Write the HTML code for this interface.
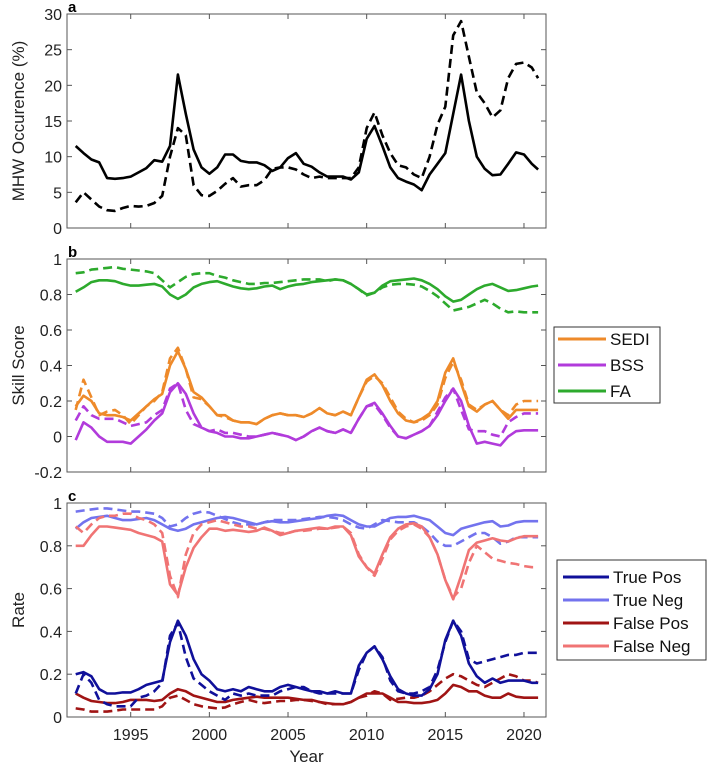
<!DOCTYPE html>
<html><head><meta charset="utf-8">
<style>
html,body{margin:0;padding:0;background:#fff;}
svg{display:block;font-family:"Liberation Sans",Arial,sans-serif;}
</style></head>
<body>
<svg id="fig" width="707" height="769" viewBox="0 0 707 769"></svg>
<script>
const years=[1991.5,1992,1992.5,1993,1993.5,1994,1994.5,1995,1995.5,1996,
1996.5,1997,1997.5,1998,1998.5,1999,1999.5,2000,2000.5,2001,
2001.5,2002,2002.5,2003,2003.5,2004,2004.5,2005,2005.5,2006,
2006.5,2007,2007.5,2008,2008.5,2009,2009.5,2010,2010.5,2011,
2011.5,2012,2012.5,2013,2013.5,2014,2014.5,2015,2015.5,2016,
2016.5,2017,2017.5,2018,2018.5,2019,2019.5,2020,2020.5,2020.9];
const xTicks=[1995,2000,2005,2010,2015,2020];
const mhwObs=[11.5,10.5,9.6,9.2,7.0,6.9,7.0,7.2,7.8,8.4,
9.5,9.3,11.5,21.5,16,11,8.5,7.6,8.5,10.3,
10.3,9.4,9.2,9.2,8.8,8.0,8.5,9.8,10.5,9.0,
8.6,7.8,7.2,7.2,7.2,6.8,7.8,12.5,14.3,11.5,
8.5,7.0,6.5,6.1,5.3,7.5,9.0,10.5,16,21.5,
15,10,8.3,7.4,7.5,9.0,10.6,10.3,9.0,8.2];
const mhwMod=[3.6,5.0,4.0,3.0,2.5,2.4,2.8,3.1,3.0,3.1,
3.5,4.5,10,14,13,6,4.6,4.5,5.2,6.2,
7.0,5.8,6.0,6.0,6.7,8.3,8.5,8.5,8.2,7.5,
7.0,7.2,7.0,7.0,7.0,7.0,8.5,14,16.2,13,
10.5,8.8,8.5,7.5,7.0,10,14.5,17,27,29,
24,19,17.5,15.5,16.5,21,23,23.2,22.5,21];
const faObs=[0.815,0.84,0.87,0.88,0.88,0.875,0.86,0.85,0.85,0.855,
0.86,0.845,0.80,0.775,0.80,0.84,0.86,0.87,0.875,0.86,
0.845,0.835,0.83,0.835,0.845,0.85,0.83,0.845,0.855,0.86,
0.87,0.875,0.88,0.885,0.88,0.86,0.83,0.80,0.81,0.85,
0.875,0.88,0.885,0.89,0.88,0.86,0.83,0.79,0.76,0.77,
0.80,0.83,0.85,0.86,0.84,0.82,0.825,0.835,0.845,0.85];
const faMod=[0.92,0.925,0.94,0.945,0.95,0.955,0.945,0.94,0.935,0.93,
0.92,0.88,0.84,0.87,0.90,0.915,0.92,0.92,0.905,0.895,
0.88,0.87,0.86,0.86,0.865,0.865,0.87,0.875,0.88,0.885,
0.885,0.885,0.875,0.885,0.88,0.86,0.83,0.795,0.81,0.84,
0.855,0.86,0.86,0.855,0.845,0.82,0.79,0.75,0.71,0.72,
0.73,0.75,0.77,0.75,0.72,0.70,0.705,0.70,0.70,0.70];
const sediObs=[0.17,0.23,0.20,0.13,0.12,0.12,0.11,0.09,0.13,0.17,
0.21,0.24,0.40,0.48,0.38,0.25,0.22,0.17,0.12,0.12,
0.09,0.08,0.08,0.07,0.10,0.12,0.13,0.12,0.12,0.11,
0.13,0.16,0.13,0.12,0.14,0.12,0.22,0.32,0.35,0.29,
0.20,0.13,0.09,0.08,0.10,0.13,0.20,0.36,0.44,0.30,
0.17,0.14,0.18,0.20,0.15,0.10,0.15,0.15,0.15,0.15];
const sediMod=[0.15,0.32,0.22,0.12,0.14,0.15,0.12,0.07,0.12,0.17,
0.20,0.25,0.44,0.50,0.38,0.22,0.21,0.17,0.12,0.11,
0.09,0.08,0.08,0.07,0.10,0.12,0.13,0.12,0.12,0.11,
0.13,0.16,0.13,0.12,0.14,0.12,0.22,0.31,0.34,0.30,
0.22,0.14,0.10,0.08,0.09,0.12,0.18,0.33,0.42,0.32,
0.18,0.15,0.18,0.20,0.15,0.12,0.18,0.20,0.20,0.20];
const bssObs=[-0.02,0.08,0.05,0.0,-0.03,-0.03,-0.03,-0.04,0.0,0.04,
0.09,0.13,0.25,0.30,0.24,0.13,0.05,0.03,0.02,0.0,
0.0,-0.01,-0.01,0.0,0.01,0.02,0.01,0.0,-0.02,0.0,
0.03,0.05,0.03,0.02,0.04,0.02,0.10,0.17,0.19,0.13,
0.06,0.0,-0.01,0.01,0.03,0.06,0.12,0.20,0.27,0.20,
0.06,-0.04,-0.03,-0.04,-0.05,0.0,0.03,0.035,0.035,0.035];
const bssMod=[0.09,0.17,0.12,0.10,0.10,0.10,0.08,0.06,0.07,0.08,
0.12,0.15,0.27,0.30,0.15,0.07,0.05,0.03,0.04,0.02,
0.02,0.01,0.0,0.0,0.01,0.02,0.01,0.0,-0.02,0.0,
0.03,0.05,0.03,0.02,0.04,0.02,0.10,0.17,0.18,0.12,
0.05,0.0,-0.01,0.01,0.03,0.06,0.14,0.22,0.27,0.15,
0.04,0.03,0.03,0.01,0.0,0.08,0.11,0.13,0.13,0.13];
const tnObs=[0.88,0.91,0.93,0.935,0.94,0.93,0.92,0.92,0.925,0.93,
0.92,0.90,0.88,0.87,0.88,0.90,0.91,0.92,0.93,0.935,
0.93,0.92,0.91,0.90,0.91,0.915,0.91,0.91,0.915,0.92,
0.925,0.93,0.94,0.945,0.94,0.92,0.90,0.89,0.89,0.91,
0.93,0.935,0.935,0.94,0.93,0.92,0.89,0.86,0.85,0.88,
0.89,0.90,0.91,0.915,0.89,0.895,0.91,0.915,0.915,0.915];
const tnMod=[0.96,0.965,0.97,0.975,0.975,0.97,0.965,0.96,0.96,0.955,
0.95,0.93,0.89,0.90,0.93,0.95,0.96,0.955,0.94,0.925,
0.91,0.90,0.90,0.90,0.91,0.92,0.92,0.92,0.92,0.925,
0.93,0.935,0.935,0.93,0.92,0.90,0.885,0.88,0.90,0.92,
0.915,0.91,0.91,0.91,0.89,0.86,0.82,0.80,0.80,0.82,
0.84,0.86,0.86,0.84,0.81,0.82,0.84,0.84,0.84,0.84];
const fnObs=[0.80,0.80,0.85,0.89,0.89,0.885,0.88,0.875,0.86,0.85,
0.84,0.82,0.62,0.57,0.70,0.79,0.84,0.88,0.88,0.87,
0.875,0.87,0.865,0.87,0.885,0.87,0.85,0.86,0.87,0.875,
0.88,0.885,0.88,0.89,0.89,0.85,0.75,0.70,0.67,0.76,
0.84,0.88,0.90,0.905,0.89,0.84,0.76,0.64,0.55,0.66,
0.78,0.815,0.825,0.835,0.825,0.82,0.835,0.845,0.845,0.845];
const fnMod=[0.89,0.86,0.90,0.93,0.94,0.94,0.95,0.95,0.93,0.92,
0.90,0.86,0.66,0.56,0.76,0.86,0.90,0.91,0.92,0.91,
0.90,0.89,0.89,0.88,0.88,0.87,0.86,0.86,0.87,0.87,
0.875,0.88,0.88,0.885,0.89,0.86,0.76,0.70,0.66,0.74,
0.83,0.87,0.89,0.90,0.88,0.84,0.76,0.64,0.56,0.60,
0.72,0.80,0.77,0.74,0.73,0.72,0.715,0.705,0.70,0.70];
const tpObs=[0.20,0.21,0.19,0.13,0.11,0.11,0.115,0.115,0.13,0.15,
0.16,0.17,0.35,0.45,0.38,0.27,0.20,0.17,0.13,0.12,
0.13,0.12,0.14,0.13,0.12,0.12,0.14,0.15,0.14,0.13,
0.12,0.12,0.11,0.12,0.11,0.11,0.24,0.30,0.33,0.27,
0.19,0.13,0.11,0.10,0.10,0.13,0.20,0.36,0.45,0.38,
0.25,0.19,0.16,0.18,0.16,0.17,0.17,0.17,0.16,0.16];
const tpMod=[0.11,0.20,0.16,0.08,0.06,0.05,0.05,0.05,0.09,0.10,
0.12,0.16,0.38,0.44,0.28,0.18,0.15,0.12,0.10,0.08,
0.11,0.10,0.11,0.10,0.10,0.10,0.12,0.13,0.14,0.14,
0.12,0.11,0.11,0.11,0.11,0.11,0.22,0.30,0.33,0.28,
0.17,0.12,0.11,0.11,0.12,0.14,0.22,0.35,0.45,0.40,
0.27,0.25,0.26,0.27,0.28,0.29,0.29,0.30,0.30,0.30];
const fpObs=[0.11,0.09,0.075,0.07,0.065,0.065,0.07,0.08,0.08,0.08,
0.075,0.08,0.11,0.13,0.12,0.10,0.09,0.08,0.07,0.07,
0.08,0.085,0.09,0.095,0.09,0.09,0.09,0.09,0.085,0.08,
0.08,0.07,0.065,0.06,0.06,0.07,0.09,0.11,0.11,0.11,
0.09,0.07,0.07,0.065,0.065,0.07,0.08,0.11,0.15,0.14,
0.12,0.12,0.10,0.09,0.09,0.11,0.095,0.09,0.09,0.09];
const fpMod=[0.04,0.035,0.025,0.025,0.025,0.03,0.035,0.035,0.035,0.035,
0.035,0.05,0.09,0.10,0.08,0.06,0.05,0.045,0.04,0.045,
0.06,0.07,0.08,0.07,0.065,0.07,0.075,0.075,0.08,0.08,
0.075,0.07,0.06,0.06,0.06,0.07,0.09,0.10,0.12,0.11,
0.08,0.085,0.09,0.09,0.10,0.12,0.15,0.18,0.20,0.19,
0.17,0.15,0.14,0.16,0.18,0.20,0.19,0.17,0.17,0.16];
const yTicksA=[0,5,10,15,20,25,30];
const yTicksB=[-0.2,0,0.2,0.4,0.6,0.8,1];
const yTicksC=[0,0.2,0.4,0.6,0.8,1];
const legendB=["SEDI","BSS","FA"];
const legendC=["True Pos","True Neg","False Pos","False Neg"];

const NS="http://www.w3.org/2000/svg";
const svg=document.getElementById('fig');
const X0=67,X1=546,XMIN=1990.95,XMAX=2021.4;
function xs(v){return X0+(v-XMIN)/(XMAX-XMIN)*(X1-X0);}
function mk(tag,attrs,parent){const e=document.createElementNS(NS,tag);for(const k in attrs)e.setAttribute(k,attrs[k]);(parent||svg).appendChild(e);return e;}
function txt(s,attrs,parent){const e=mk('text',attrs,parent);e.textContent=s;return e;}

function panel(name,top,bot,ymin,ymax,ticks,ylabel,letter,showX){
  const g=mk('g',{});
  
  
  const ys=v=>bot-(v-ymin)/(ymax-ymin)*(bot-top);
  const box=mk('rect',{x:X0,y:top,width:X1-X0,height:bot-top,fill:'none',stroke:'#555','stroke-width':1},g);
  
  
  xTicks.forEach(t=>{
    const x=xs(t);
    mk('line',{x1:x,x2:x,y1:bot,y2:bot-5,stroke:'#555'},g);
    mk('line',{x1:x,x2:x,y1:top,y2:top+5,stroke:'#555'},g);
    if(showX){const l=txt(String(t),{x:x,y:bot+23,'text-anchor':'middle','font-size':16,fill:'#222'},g);
      
      }
  });
  ticks.forEach(t=>{
    const y=ys(t);
    mk('line',{x1:X0,x2:X0+5,y1:y,y2:y,stroke:'#555'},g);
    mk('line',{x1:X1,x2:X1-5,y1:y,y2:y,stroke:'#555'},g);
    const l=txt(String(t),{x:X0-5,y:y+6,'text-anchor':'end','font-size':16,fill:'#222'},g);
    
    
  });
  const yl=txt(ylabel,{x:0,y:0,'text-anchor':'middle','font-size':17,fill:'#222',transform:`translate(24,${(top+bot)/2}) rotate(-90)`},g);
  
  
  const pl=txt(letter,{x:X0+1,y:top-2,'font-size':15,'font-weight':'bold',fill:'#000'},g);
  
  
  return {g,ys};
}
function series(p,vals,color,dashed,name){
  const d=vals.map((v,i)=>(i?'L':'M')+xs(years[i]).toFixed(1)+','+p.ys(v).toFixed(1)).join(' ');
  const e=mk('path',{d:d,fill:'none',stroke:color,'stroke-width':2.6,'stroke-linejoin':'round','stroke-dasharray':dashed?'9,5':'none'},p.g);
  
  
}
function legend(x,y,w,h,labels,colors,rowY,lx1,lx2,name){
  const g=mk('g',{});
  
  
  mk('rect',{x:x,y:y,width:w,height:h,fill:'#fff',stroke:'#333','stroke-width':1},g);
  labels.forEach((s,i)=>{
    mk('line',{x1:lx1,x2:lx2,y1:rowY[i],y2:rowY[i],stroke:colors[i],'stroke-width':3},g);
    const t=txt(s,{x:lx2+4,y:rowY[i]+6,'font-size':17,fill:'#111'},g);
    
    
  });
}

const pa=panel('panel-a',14,228,0,30,yTicksA,'MHW Occurence (%)','a',false);
series(pa,mhwObs,'#000',false,'mhw-observed-line');
series(pa,mhwMod,'#000',true,'mhw-model-line');

const pb=panel('panel-b',259,472,-0.2,1,yTicksB,'Skill Score','b',false);
const cS='#EE8A2A',cB='#B13BDB',cF='#2DAA2D';
series(pb,faMod,cF,true,'fa-dashed-line');
series(pb,faObs,cF,false,'fa-line');
series(pb,sediMod,cS,true,'sedi-dashed-line');
series(pb,sediObs,cS,false,'sedi-line');
series(pb,bssMod,cB,true,'bss-dashed-line');
series(pb,bssObs,cB,false,'bss-line');
legend(554,327,106,76,legendB,[cS,cB,cF],[339,365,391],558,606,'legend-skill');

const pc=panel('panel-c',503,717,0,1,yTicksC,'Rate','c',true);
const cTP='#10109A',cTN='#7373EE',cFP='#A01414',cFN='#F07474';
series(pc,tnMod,cTN,true,'true-neg-dashed-line');
series(pc,tnObs,cTN,false,'true-neg-line');
series(pc,fnMod,cFN,true,'false-neg-dashed-line');
series(pc,fnObs,cFN,false,'false-neg-line');
series(pc,fpMod,cFP,true,'false-pos-dashed-line');
series(pc,fpObs,cFP,false,'false-pos-line');
series(pc,tpMod,cTP,true,'true-pos-dashed-line');
series(pc,tpObs,cTP,false,'true-pos-line');
legend(557,560,149,100,legendC,[cTP,cTN,cFP,cFN],[577,600,623,646],563,609,'legend-rate');

const xt=txt('Year',{x:(X0+X1)/2,y:762,'text-anchor':'middle','font-size':17,fill:'#222'});


</script>
</body></html>
